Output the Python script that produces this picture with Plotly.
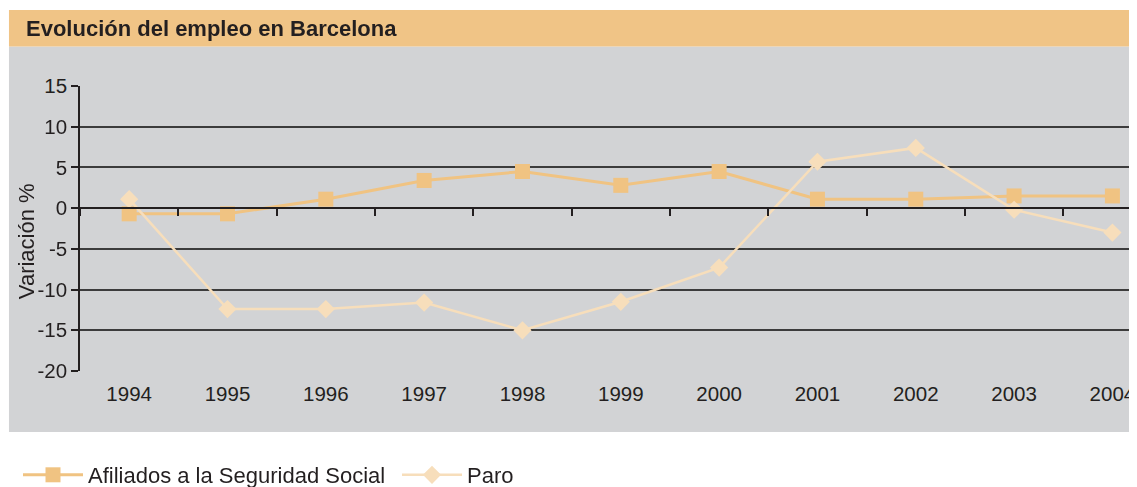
import plotly.graph_objects as go

years = [1994, 1995, 1996, 1997, 1998, 1999, 2000, 2001, 2002, 2003, 2004]
afiliados = [-0.7, -0.7, 1.1, 3.4, 4.5, 2.8, 4.5, 1.1, 1.1, 1.5, 1.5]
paro = [1.1, -12.4, -12.4, -11.6, -15.0, -11.5, -7.3, 5.7, 7.4, -0.2, -3.0]
y_ticks = [15, 10, 5, 0, -5, -10, -15, -20]

TEXT = "#231F20"
GRID = "#3C3C3C"
BG = "#D2D3D5"
BAR = "#F0C486"
C_AFIL = "#F0C382"
C_PARO = "#F7DEBB"
FONT = "Liberation Sans, Arial, sans-serif"

fig = go.Figure()

fig.add_trace(go.Scatter(
    x=years, y=afiliados, name="Afiliados a la Seguridad Social",
    mode="lines+markers", legendwidth=304,
    line=dict(color=C_AFIL, width=3),
    marker=dict(symbol="square", size=15, color=C_AFIL),
))
fig.add_trace(go.Scatter(
    x=years, y=paro, name="Paro",
    mode="lines+markers",
    line=dict(color=C_PARO, width=2.5),
    marker=dict(symbol="diamond", size=14, color=C_PARO),
))
# invisible trace so the zero-line axis (x2) gets drawn
fig.add_trace(go.Scatter(
    x=years, y=paro, xaxis="x2", mode="markers", opacity=0,
    showlegend=False, hoverinfo="skip",
))

xr = [1993.5, 2004.25]

# page body has an 8px margin, so the figure is 8px smaller each way
fig.update_layout(
    width=1129, height=479,
    margin=dict(l=72, r=0, t=78, b=116),
    paper_bgcolor="white",
    plot_bgcolor=BG,
    font=dict(family=FONT, size=20, color=TEXT),
    xaxis=dict(
        range=xr, tickvals=years, ticktext=[str(y) for y in years],
        showgrid=False, zeroline=False, showline=False,
        ticks="outside", ticklen=4, tickcolor="rgba(0,0,0,0)",
        tickfont=dict(size=20.5, color=TEXT),
    ),
    xaxis2=dict(
        range=xr, overlaying="x", anchor="free", position=20 / 35,
        tick0=1993.5, dtick=1, ticks="outside", ticklen=7, tickwidth=1.5,
        tickcolor=TEXT, showticklabels=False, showgrid=False,
        showline=True, linecolor=TEXT, linewidth=1.5, zeroline=False,
    ),
    yaxis=dict(
        range=[-20, 15], tickvals=y_ticks, ticktext=[str(v) for v in y_ticks],
        showgrid=True, gridcolor=GRID, gridwidth=1.5,
        zeroline=False, showline=True, linecolor=TEXT, linewidth=1.5,
        ticks="outside", ticklen=7, tickwidth=1.5, tickcolor=TEXT,
        tickfont=dict(size=20.5, color=TEXT),
    ),
    # container refs so the legend does not shrink the plot area
    legend=dict(
        orientation="h", xref="container", yref="container",
        x=10 / 1129, y=12 / 479, xanchor="left", yanchor="middle",
        itemwidth=60, bgcolor="rgba(0,0,0,0)", font=dict(size=22, color=TEXT),
    ),
    shapes=[
        dict(type="rect", xref="paper", yref="paper", x0=-0.0672, x1=1.0,
             y0=-0.214, y1=1.1386, fillcolor=BG, line=dict(width=0), layer="below"),
        dict(type="rect", xref="paper", yref="paper", x0=-0.0672, x1=1.0,
             y0=1.1386, y1=1.2667, fillcolor=BAR, line=dict(width=0), layer="below"),
    ],
    annotations=[
        dict(text="<b>Evolución del empleo en Barcelona</b>", xref="paper", yref="paper",
             x=-0.053, y=1.2035, xanchor="left", yanchor="middle", showarrow=False,
             font=dict(size=22, color=TEXT)),
        dict(text="Variación %", xref="paper", yref="paper", textangle=-90,
             x=-0.051, y=0.456, xanchor="center", yanchor="middle", showarrow=False,
             font=dict(size=22, color=TEXT)),
    ],
)

fig.write_html("out.html")
